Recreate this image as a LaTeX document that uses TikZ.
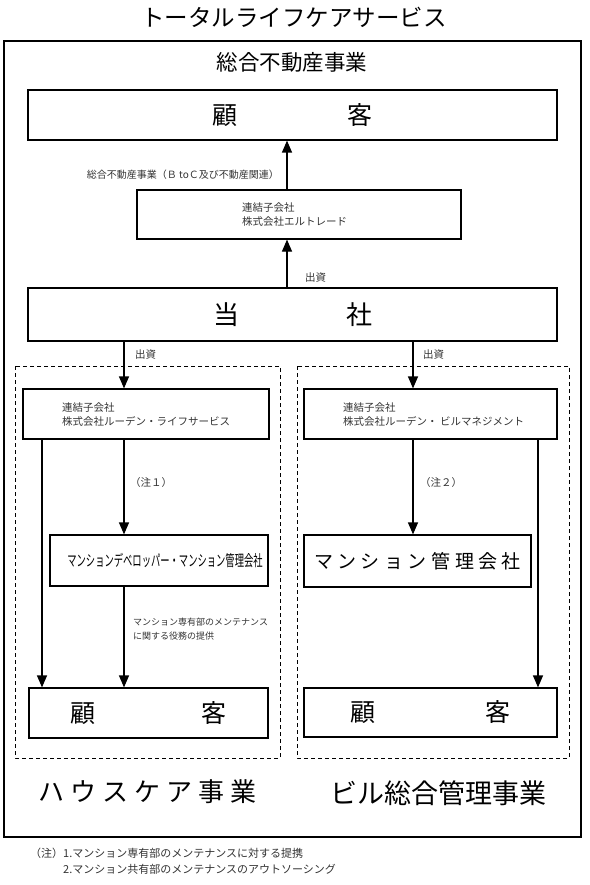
\documentclass[tikz,border=0pt]{standalone}
\usepackage{graphicx}
\usepackage{fontspec}
\setmainfont{Noto Sans CJK JP}
\usetikzlibrary{arrows.meta}

\begin{document}
\begin{tikzpicture}[x=1pt,y=-1pt,
  box/.style={draw, line width=1.2pt, inner sep=0pt},
  dashbox/.style={draw, line width=1pt, dash pattern=on 4pt off 3pt},
  arr/.style={-{Triangle[length=12pt,width=10pt]}, line width=1.2pt},
  small/.style={font=\fontsize{10.5}{14}\selectfont, text=black!80, inner sep=0pt, align=left},
  bigtxt/.style={font=\fontsize{25}{25}\selectfont},
  unit/.style={font=\fontsize{26}{26}\selectfont, inner sep=0pt}]

\useasboundingbox (0,0) rectangle (589,885);

% -------------------------------------------------
% Titre et cadre
% -------------------------------------------------
\node[font=\fontsize{23.5}{24}\selectfont] (title) at (294,17) {トータルライフケアサービス};
\draw[line width=1.8pt] (4,41) rectangle (581,837);
\node[font=\fontsize{21.5}{22}\selectfont] (head) at (292,62) {総合不動産事業};

% -------------------------------------------------
% Colonne centrale
% -------------------------------------------------
\node[box, bigtxt, minimum width=529pt, minimum height=50pt] (kyaku) at (292.5,115) {顧\hspace{110pt}客};
\node[box, minimum width=324pt, minimum height=49pt] (elt) at (299,214.5) {};
\node[small, anchor=west] (elttxt) at (242,215) {連結子会社\\株式会社エルトレード};
\node[box, font=\fontsize{26}{26}\selectfont, minimum width=529pt, minimum height=53pt] (tosha) at (292.5,314.5) {当\hspace{107pt}社};

\node[small, anchor=east, font=\fontsize{10}{12}\selectfont] (lbl1) at (279,175) {総合不動産事業（Ｂ toＣ及び不動産関連）};
\node[small, anchor=west] (inv1) at (305,278) {出資};
\node[small, anchor=west] (inv2) at (135,355) {出資};
\node[small, anchor=west] (inv3) at (423,355) {出資};

% -------------------------------------------------
% Cadres en pointilles
% -------------------------------------------------
\draw[dashbox] (15,366) rectangle (280,758);
\draw[dashbox] (297,366) rectangle (569,758);

% -------------------------------------------------
% Hauskea (gauche)
% -------------------------------------------------
\node[box, minimum width=246pt, minimum height=50pt] (life) at (146,414) {};
\node[small, anchor=west] (lifetxt) at (62,415) {連結子会社\\株式会社ルーデン・ライフサービス};
\node[small, anchor=west] (note1) at (130,483) {（注１）};
\node[box, minimum width=218pt, minimum height=51pt] (dev) at (159,560.5)
  {\hspace{12pt}\scalebox{0.6}[1]{\fontsize{15.5}{15.5}\selectfont マンションデベロッパー・マンション管理会社}};
\node[small, anchor=west, font=\fontsize{9}{14}\selectfont] (lbl2) at (133,629) {マンション専有部のメンテナンス\\に関する役務の提供};
\node[box, bigtxt, minimum width=239pt, minimum height=50pt] (lkyaku) at (148.5,713) {顧\hspace{106pt}客};
\node[unit] (house) at (147.5,792) {ハ\hspace{6pt}ウ\hspace{6pt}ス\hspace{6pt}ケ\hspace{6pt}ア\hspace{6pt}事\hspace{6pt}業};

% -------------------------------------------------
% Biru (droite)
% -------------------------------------------------
\node[box, minimum width=253pt, minimum height=50pt] (bldg) at (430.5,414) {};
\node[small, anchor=west] (bldgtxt) at (343,415) {連結子会社\\株式会社ルーデン・ ビルマネジメント};
\node[small, anchor=west] (note2) at (420,483) {（注２）};
\node[box, font=\fontsize{19}{19}\selectfont, minimum width=227pt, minimum height=52pt] (kanri) at (417.5,561)
  {マ\hspace{4.5pt}ン\hspace{4.5pt}シ\hspace{4.5pt}ョ\hspace{4.5pt}ン\hspace{4.5pt}管\hspace{4.5pt}理\hspace{4.5pt}会\hspace{4.5pt}社};
\node[box, bigtxt, minimum width=253pt, minimum height=49pt] (rkyaku) at (430.5,712.5) {顧\hspace{110pt}客};
\node[unit, font=\fontsize{27}{27}\selectfont] (biru) at (438.5,793) {ビル総合管理事業};

% -------------------------------------------------
% Fleches
% -------------------------------------------------
\coordinate (ca) at (287,0);
\coordinate (cl) at (124,0);
\coordinate (cll) at (42,0);
\coordinate (cr) at (413,0);
\coordinate (crr) at (538,0);
\draw[arr] (tosha.north -| ca) -- (elt.south -| ca);
\draw[arr] (elt.north -| ca) -- (kyaku.south -| ca);
\draw[arr] (tosha.south -| cl) -- (life.north -| cl);
\draw[arr] (tosha.south -| cr) -- (bldg.north -| cr);
\draw[arr] (life.south -| cl) -- (dev.north -| cl);
\draw[arr] (dev.south -| cl) -- (lkyaku.north -| cl);
\draw[arr] (life.south -| cll) -- (lkyaku.north -| cll);
\draw[arr] (bldg.south -| cr) -- (kanri.north -| cr);
\draw[arr] (bldg.south -| crr) -- (rkyaku.north -| crr);

% -------------------------------------------------
% Notes
% -------------------------------------------------
\node[small, anchor=west, font=\fontsize{11}{16}\selectfont] (notes) at (30,861)
  {（注）1.マンション専有部のメンテナンスに対する提携\\\phantom{（注）}2.マンション共有部のメンテナンスのアウトソーシング};

\end{tikzpicture}
\end{document}
